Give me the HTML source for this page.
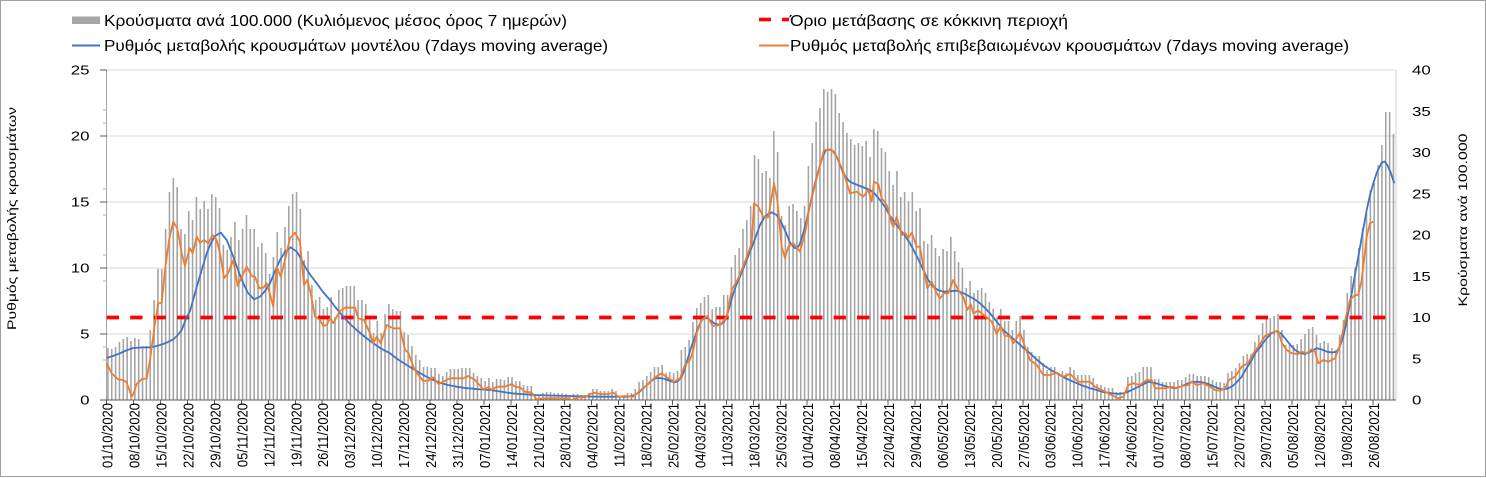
<!DOCTYPE html>
<html><head><meta charset="utf-8"><style>
html,body{margin:0;padding:0;background:#fff;}
svg{display:block;font-family:"Liberation Sans","DejaVu Sans",sans-serif;}
</style></head><body>
<svg width="1486" height="478" viewBox="0 0 1486 478" xmlns="http://www.w3.org/2000/svg">
<rect x="0" y="0" width="1486" height="478" fill="#fff"/>
<rect x="0.5" y="0.5" width="1485" height="476" fill="none" stroke="#a0a0a0" stroke-width="1"/>

<!-- gridlines -->
<g stroke="#d9d9d9" stroke-width="1" shape-rendering="crispEdges">
<line x1="107" y1="70" x2="1396" y2="70"/>
<line x1="107" y1="136" x2="1396" y2="136"/>
<line x1="107" y1="202" x2="1396" y2="202"/>
<line x1="107" y1="268" x2="1396" y2="268"/>
<line x1="107" y1="334" x2="1396" y2="334"/>
</g>

<!-- bars -->
<g transform="translate(0,400) scale(1,-1)">
<path fill="none" stroke="#a5a5a5" stroke-width="1.6" d="M107.9 0
v52m3.849-52v51m3.849-51v53m3.849-53v58m3.849-58v61m3.849-61v63m3.849-63v59m3.849-59v62m3.849-62v61m3.849-61v54m3.849-54v54m3.849-54
v70m3.849-70v100m3.849-100v131m3.849-131v131m3.849-131v171m3.849-171v208m3.849-208v222m3.849-222v213m3.849-213v171m3.849-171v166m3.849-166v189m3.849-189v180m3.849-180v203m3.849-203v191m3.849-191v199m3.849-199v191m3.849-191v206m3.849-206v203m3.849-203v192m3.849-192
v155m3.849-155v150m3.849-150v163m3.849-163v178m3.849-178v160m3.849-160v171m3.849-171v185m3.849-185v171m3.849-171v171m3.849-171v153m3.849-153v157m3.849-157v147m3.849-147v126m3.849-126v143m3.849-143v168m3.849-168v152m3.849-152v173m3.849-173v194m3.849-194
v206m3.849-206v208m3.849-208v191m3.849-191v140m3.849-140v149m3.849-149v115m3.849-115v100m3.849-100v103m3.849-103v91m3.849-91v93m3.849-93v103m3.849-103v83m3.849-83v110m3.849-110v112m3.849-112v114m3.849-114v114m3.849-114v114m3.849-114v100m3.849-100v100m3.849-100v96m3.849-96v83m3.849-83v67m3.849-67v79m3.849-79v67m3.849-67v86m3.849-86v96m3.849-96v91m3.849-91v89m3.849-89v89m3.849-89v68m3.849-68v65m3.849-65v54m3.849-54v45m3.849-45v40m3.849-40v33m3.849-33v33m3.849-33v32m3.849-32v32m3.849-32v26m3.849-26v24m3.849-24v28m3.849-28v31m3.849-31v31m3.849-31v31m3.849-31v32m3.849-32v32m3.849-32v32m3.849-32v27m3.849-27v24m3.849-24v22m3.849-22v19m3.849-19v22m3.849-22
v18m3.849-18v21m3.849-21v21m3.849-21v20m3.849-20v23m3.849-23v23m3.849-23v19m3.849-19v19m3.849-19v15m3.849-15v14m3.849-14v14m3.849-14v6m3.849-6v4m3.849-4v7m3.849-7v8m3.849-8v8m3.849-8v7m3.849-7v7m3.849-7v7m3.849-7v6m3.849-6v3m3.849-3v6m3.849-6v6m3.849-6v5m3.849-5v5m3.849-5v7m3.849-7v11m3.849-11v11m3.849-11v9m3.849-9v9m3.849-9v9m3.849-9v11m3.849-11v9m3.849-9v4m3.849-4v4m3.849-4v7m3.849-7v7m3.849-7v11m3.849-11v18m3.849-18v20m3.849-20v24m3.849-24v28m3.849-28v33m3.849-33v33m3.849-33v35m3.849-35v27m3.849-27v28m3.849-28v27m3.849-27v29m3.849-29v50m3.849-50v53m3.849-53v60m3.849-60v78m3.849-78v92m3.849-92
v97m3.849-97v103m3.849-103v105m3.849-105v91m3.849-91v93m3.849-93v93m3.849-93v105m3.849-105v105m3.849-105v133m3.849-133v145m3.849-145v152m3.849-152v171m3.849-171v180m3.849-180v194m3.849-194v245m3.849-245v241m3.849-241v227m3.849-227v229m3.849-229v222m3.849-222v269m3.849-269v248m3.849-248v184m3.849-184v175m3.849-175v194m3.849-194v196m3.849-196v189m3.849-189v182m3.849-182v194m3.849-194v234m3.849-234v257m3.849-257v278m3.849-278v292m3.849-292v311m3.849-311v308m3.849-308v311m3.849-311v306m3.849-306v287m3.849-287v278m3.849-278v267m3.849-267v261m3.849-261v255m3.849-255v257m3.849-257v254m3.849-254v259m3.849-259v243m3.849-243v271m3.849-271v269m3.849-269v252m3.849-252v248m3.849-248v229m3.849-229v215m3.849-215v229m3.849-229
v203m3.849-203v208m3.849-208v199m3.849-199v208m3.849-208v189m3.849-189v192m3.849-192v159m3.849-159v156m3.849-156v165m3.849-165v152m3.849-152v144m3.849-144v151m3.849-151v149m3.849-149v163m3.849-163v149m3.849-149v138m3.849-138v132m3.849-132v112m3.849-112v119m3.849-119v107m3.849-107v110m3.849-110v112m3.849-112v107m3.849-107v98m3.849-98v91m3.849-91v83m3.849-83v91m3.849-91v79m3.849-79v79m3.849-79v70m3.849-70v79m3.849-79v84m3.849-84v70m3.849-70v53m3.849-53v48m3.849-48v44m3.849-44v44m3.849-44v37m3.849-37v30m3.849-30v33m3.849-33v33m3.849-33v27m3.849-27v29m3.849-29v27m3.849-27v33m3.849-33v30m3.849-30v25m3.849-25v25m3.849-25v25m3.849-25v25m3.849-25
v22m3.849-22v16m3.849-16v15m3.849-15v13m3.849-13v12m3.849-12v12m3.849-12v8m3.849-8v8m3.849-8v7m3.849-7v23m3.849-23v24m3.849-24v27m3.849-27v28m3.849-28v33m3.849-33v33m3.849-33v33m3.849-33v21m3.849-21v21m3.849-21v18m3.849-18v18m3.849-18v18m3.849-18v18m3.849-18v20m3.849-20v20m3.849-20v23m3.849-23v26m3.849-26v26m3.849-26v24m3.849-24v24m3.849-24v24m3.849-24v23m3.849-23v20m3.849-20v18m3.849-18v18m3.849-18v17m3.849-17v27m3.849-27v29m3.849-29v32m3.849-32v37m3.849-37v44m3.849-44v46m3.849-46v46m3.849-46v58m3.849-58v65m3.849-65v77m3.849-77v81m3.849-81v82m3.849-82v84m3.849-84v86m3.849-86v70m3.849-70v55m3.849-55v55m3.849-55v55m3.849-55v56m3.849-56v61m3.849-61v66m3.849-66v71m3.849-71v73m3.849-73
v65m3.849-65v57m3.849-57v59m3.849-59v57m3.849-57v52m3.849-52v50m3.849-50v65m3.849-65v80m3.849-80v107m3.849-107v124m3.849-124v132m3.849-132v152m3.849-152v172m3.849-172v187m3.849-187v210m3.849-210v217m3.849-217v235m3.849-235v255m3.849-255v288m3.849-288v288m3.849-288v266"/>
</g>

<!-- axes -->
<g shape-rendering="crispEdges">
<line x1="106.5" y1="70" x2="106.5" y2="400" stroke="#a6a6a6" stroke-width="1"/>
<line x1="1396" y1="70" x2="1396" y2="400" stroke="#d0d0d0" stroke-width="1"/>
<line x1="106" y1="400" x2="1396" y2="400" stroke="#595959" stroke-width="1"/>
<g stroke="#595959" stroke-width="1">
<line x1="100" y1="70" x2="107" y2="70"/><line x1="100" y1="136" x2="107" y2="136"/><line x1="100" y1="202" x2="107" y2="202"/><line x1="100" y1="268" x2="107" y2="268"/><line x1="100" y1="334" x2="107" y2="334"/><line x1="100" y1="400" x2="107" y2="400"/>
</g>
<g stroke="#b0b0b0" stroke-width="1">
<line x1="103" y1="189" x2="107" y2="189"/><line x1="103" y1="215" x2="107" y2="215"/><line x1="103" y1="255" x2="107" y2="255"/><line x1="103" y1="281" x2="107" y2="281"/><line x1="103" y1="347" x2="107" y2="347"/><line x1="103" y1="360" x2="107" y2="360"/><line x1="103" y1="110" x2="107" y2="110"/><line x1="103" y1="123" x2="107" y2="123"/>
</g>
<g stroke="#595959" stroke-width="1">
<line x1="106.7" y1="400" x2="106.7" y2="405"/><line x1="133.6" y1="400" x2="133.6" y2="405"/><line x1="160.6" y1="400" x2="160.6" y2="405"/><line x1="187.5" y1="400" x2="187.5" y2="405"/><line x1="214.5" y1="400" x2="214.5" y2="405"/><line x1="241.4" y1="400" x2="241.4" y2="405"/><line x1="268.4" y1="400" x2="268.4" y2="405"/><line x1="295.3" y1="400" x2="295.3" y2="405"/><line x1="322.2" y1="400" x2="322.2" y2="405"/><line x1="349.2" y1="400" x2="349.2" y2="405"/><line x1="376.1" y1="400" x2="376.1" y2="405"/><line x1="403.1" y1="400" x2="403.1" y2="405"/><line x1="430" y1="400" x2="430" y2="405"/><line x1="457" y1="400" x2="457" y2="405"/><line x1="483.9" y1="400" x2="483.9" y2="405"/><line x1="510.8" y1="400" x2="510.8" y2="405"/><line x1="537.8" y1="400" x2="537.8" y2="405"/><line x1="564.7" y1="400" x2="564.7" y2="405"/><line x1="591.7" y1="400" x2="591.7" y2="405"/><line x1="618.6" y1="400" x2="618.6" y2="405"/><line x1="645.6" y1="400" x2="645.6" y2="405"/><line x1="672.5" y1="400" x2="672.5" y2="405"/><line x1="699.4" y1="400" x2="699.4" y2="405"/><line x1="726.4" y1="400" x2="726.4" y2="405"/><line x1="753.3" y1="400" x2="753.3" y2="405"/><line x1="780.3" y1="400" x2="780.3" y2="405"/><line x1="807.2" y1="400" x2="807.2" y2="405"/><line x1="834.2" y1="400" x2="834.2" y2="405"/><line x1="861.1" y1="400" x2="861.1" y2="405"/><line x1="888" y1="400" x2="888" y2="405"/><line x1="915" y1="400" x2="915" y2="405"/><line x1="941.9" y1="400" x2="941.9" y2="405"/><line x1="968.9" y1="400" x2="968.9" y2="405"/><line x1="995.8" y1="400" x2="995.8" y2="405"/><line x1="1022.8" y1="400" x2="1022.8" y2="405"/><line x1="1049.7" y1="400" x2="1049.7" y2="405"/><line x1="1076.6" y1="400" x2="1076.6" y2="405"/><line x1="1103.6" y1="400" x2="1103.6" y2="405"/><line x1="1130.5" y1="400" x2="1130.5" y2="405"/><line x1="1157.5" y1="400" x2="1157.5" y2="405"/><line x1="1184.4" y1="400" x2="1184.4" y2="405"/><line x1="1211.4" y1="400" x2="1211.4" y2="405"/><line x1="1238.3" y1="400" x2="1238.3" y2="405"/><line x1="1265.2" y1="400" x2="1265.2" y2="405"/><line x1="1292.2" y1="400" x2="1292.2" y2="405"/><line x1="1319.1" y1="400" x2="1319.1" y2="405"/><line x1="1346.1" y1="400" x2="1346.1" y2="405"/><line x1="1373" y1="400" x2="1373" y2="405"/>
</g>
</g>

<!-- red threshold -->
<line x1="106.7" y1="317.5" x2="1392.6" y2="317.5" stroke="#ff0000" stroke-width="3.7" stroke-dasharray="12.3 11.15"/>

<!-- blue model line -->
<polyline fill="none" stroke="#4472c4" stroke-width="1.8" stroke-linejoin="round" points="106.7,358 113,356 120,353.3 126,350.5 133.3,348 142,347.5 150,347.3 155,346.5 160,345 166,343 173.3,339.3 177,336 181.7,330 186.7,317 190,311 196.7,287 201.7,270 206.7,253.3 211,243 215,236 220.7,232.7 226.7,240 233.3,256.7 238,270 243.3,283.3 248,293 254,299.3 260,296.7 265,291 270,283.3 275,271 280,260 285,252 290.7,247.3 296.7,251.7 300,257 305,266.7 310,274.5 316.7,283.3 323,292 330,300 336,308 343.3,316.7 350,324 356.7,330 365,337 373.3,343.3 381,348.5 390,353.3 398,359.5 406.7,365 415,370 423.3,375 431,379 440,382.7 448,385 456.7,386.7 465,388 473.3,388.7 481,389.5 490,390 500,391.5 511.7,393.3 523,394.2 535,395 550,395.5 568.3,396 595,396.7 625,396.7 630,396.3 635,395 640,391.5 645,386.7 650,382 655,378.3 660,378 665,379 670,381 675,382.3 678,381 681.7,376.7 685,368 688.3,356.7 691.7,346 695,336.7 698,328 701.7,320 705,318 707.7,318.3 711,321 715,323.7 720,325 724,322 726.7,316.7 730,305 733.3,293.3 736.7,284 740,276.7 746.7,260 753.3,243.3 760,225 764,218 766.7,215 771.7,212.3 776.7,215 780,220 783.3,226.7 787,235 790,242.7 795,248.3 798,247 800,243.3 803,234 806.7,220 810,205 813.3,190 816.7,177 820,165 823,156 826,150 830,149.5 833,151 836.7,156.7 840,165 843.3,173.3 846.7,178.5 850,181.7 855,184 860,186 865,188 870,190 875,194 880,200 885,207 890,216 895,223 900,229.5 905,236 910,243.3 916.7,256 923.3,270 928,279.5 933.3,286.7 938,290 943.3,291.7 950,291.2 956.7,290.7 963,293 970,296.7 975,299.5 980,303.3 985,308 990,313.3 996.7,321.5 1003.3,330 1010,336 1016.7,341.7 1023,347.5 1030,353.3 1036.7,359.5 1043.3,365 1050,369.5 1056.7,373.3 1065,378 1073.3,381.7 1081,385 1090,388.3 1095,389.5 1101.7,391.7 1110,393 1118.3,394 1125,393 1131.7,390 1140,386 1148.3,381.7 1155,383 1161.7,385 1168,387 1175,388.3 1181,386.5 1188.3,383.3 1193,382 1198.3,381.7 1203,382.5 1208.3,384 1215,387 1221.7,389.3 1226,389 1231.7,386.7 1236,383 1241.7,376.7 1246,369 1251.7,360 1256,352 1261.7,345 1266,339 1271.7,333.3 1276.7,331 1281,333.5 1285,338.3 1290,344.5 1295,350 1300,353 1305,354 1310,352 1316.7,348.3 1322,349.5 1326.7,351.7 1332,352.5 1336.7,351.7 1340,346 1343.3,336.7 1346.5,322 1350,303.3 1354,280 1358.3,256.7 1362.5,233 1366.7,210 1370,195 1373.3,183.3 1377,172 1381.7,162.7 1384.5,161.5 1387.3,165 1390.5,172 1394.3,183.3"/>

<!-- orange confirmed line -->
<polyline fill="none" stroke="#ed7d31" stroke-width="1.8" stroke-linejoin="round" points="106.7,363.3 111.7,373.3 118.3,379.5 123.3,380 126.7,382.5 129,389 131.7,396.7 133.3,394 136.7,384 141.7,379.3 146.7,378.3 150,360 155,323.3 158.3,303.3 161.7,302.7 165,270 169.3,238.3 173.3,221.7 177.3,228.3 181.7,253.3 185,266 187.3,256.7 190,248.3 192.7,253.3 196.7,236.7 200,242.7 204.3,240 208.3,243.3 212.3,235 216.7,240 220.7,256.7 224,278.3 228.3,272.7 233.3,260 237.7,286 241.7,276.7 246.7,266.7 251.7,276 255,276.7 259.3,288.3 263.3,287.7 266.7,283.3 270.7,296.7 273.3,306.7 276.7,266.7 280.7,276.7 285,260 290,238.3 295,232.7 300,242 304,285 307.3,280 310.7,293.3 315,316.7 320,320 323.3,326 326.7,325 330,318.3 333.3,323.3 339.3,311.7 345,307.7 355,307.7 358.3,318.3 364,320 370,333.3 373.3,343.3 376.7,336.7 380.7,343.3 386.7,325 393.3,328.3 400,328.3 405,350 408.3,352.7 414,368.3 418.3,375 423.3,381 428.3,380.7 433.3,377.3 438.3,384 443.3,381.7 450,378.3 463.3,378.3 468.3,376 475,380 483.3,389.3 488.3,387.3 491.7,390 496.7,386.7 505,386.7 511.7,384 515,386.7 520,387.3 525,391.7 531.7,392.7 536.7,399.3 543.3,398.3 568.3,398.3 571.7,400 578.3,397.3 585,397.3 590,394 595,392.7 600,394 608.3,394 613.3,392.7 618.3,396.7 625,396 633.3,396.7 641.7,389.3 648.3,384 655,377.3 661.7,373.3 666.7,377.3 674.3,381.7 680,378.3 685,365 690,360 693.3,350 696.7,333.3 701.7,320 707.5,316 712.5,326 720,325 726.7,316.7 731.7,290 738.3,278.3 745,261.7 751.7,243.3 754,203.3 758.3,206.7 763.3,216.7 768.3,217.3 774,183.3 777.3,200 781.7,246.7 785,258.3 788.3,246.7 793.3,243.3 800,251.7 805,233.3 810,205 816.7,178.3 824,150 831.7,150 836.7,156.7 843.3,171.7 850,193.3 856.7,191.7 863.3,196.7 868.3,190 871.7,201.7 874,181.7 878.3,184 881.7,198.3 886.7,205 891.7,223.3 893.3,226.7 896.7,216.7 901.7,235 905,232.7 908.3,238.3 911.7,232.7 916.7,246.7 920,246.7 923.3,266.7 927.3,288.3 931.7,281.7 936.7,293.3 940,298.3 944,293.3 948.3,293.3 953.3,280 958.3,290 963.3,296.7 967.3,310 970.7,304 973.3,313.3 978.3,310.7 986.7,317.3 991.7,321.7 996.7,334 1000.7,326 1005,336 1010,336 1013.3,343.3 1020,332.7 1026.7,351.7 1030,360 1036.7,365 1043.3,375 1050,375 1056.7,372.7 1063.3,376.7 1070,374 1078.3,381.7 1090,381.7 1095,386.7 1105,391.7 1110,394.3 1115,396.7 1118.3,398.3 1123.3,396.7 1128.3,385 1133.3,383.3 1140,385 1146.7,380 1151.7,380 1155,388.3 1165,388.3 1171.7,386.7 1176.7,388.3 1181.7,386 1188.3,385 1191.7,381.7 1196.7,385 1203.3,383.3 1210,386.7 1215,390 1220,390.7 1225,388.3 1229,380 1235,376.7 1241.7,366.7 1248.3,362.7 1253.3,353.3 1258.3,346.7 1265,336 1270,333.3 1275,331.7 1278.3,331 1281.7,342.7 1286.7,350 1291.7,353.3 1298.3,354 1301.7,351.7 1306.7,353.3 1311.7,349.3 1315,351.7 1318.3,363.3 1323.3,360 1328.3,361.7 1335,358.3 1340,345 1346.7,313.3 1350,300 1355,295 1358.3,295 1361.7,280 1366.7,236.7 1370,223.3 1373.3,221.7"/>

<!-- left y labels -->
<g font-size="13" fill="#000" text-anchor="end">
<text transform="translate(89.5,74.6) scale(1.3,1)">25</text>
<text transform="translate(89.5,140.6) scale(1.3,1)">20</text>
<text transform="translate(89.5,206.6) scale(1.3,1)">15</text>
<text transform="translate(89.5,272.6) scale(1.3,1)">10</text>
<text transform="translate(89.5,338.6) scale(1.3,1)">5</text>
<text transform="translate(89.5,404.6) scale(1.3,1)">0</text>
</g>
<!-- right y labels -->
<g font-size="13" fill="#000" text-anchor="start">
<text transform="translate(1412,74.6) scale(1.3,1)">40</text>
<text transform="translate(1412,115.9) scale(1.3,1)">35</text>
<text transform="translate(1412,157.1) scale(1.3,1)">30</text>
<text transform="translate(1412,198.4) scale(1.3,1)">25</text>
<text transform="translate(1412,239.6) scale(1.3,1)">20</text>
<text transform="translate(1412,280.9) scale(1.3,1)">15</text>
<text transform="translate(1412,322.1) scale(1.3,1)">10</text>
<text transform="translate(1412,363.4) scale(1.3,1)">5</text>
<text transform="translate(1412,404.6) scale(1.3,1)">0</text>
</g>

<!-- x labels -->
<g font-size="13" fill="#000" text-anchor="end">
<text transform="translate(112.7,403) scale(1.1,1) rotate(-90)">01/10/2020</text>
<text transform="translate(139.6,403) scale(1.1,1) rotate(-90)">08/10/2020</text>
<text transform="translate(166.6,403) scale(1.1,1) rotate(-90)">15/10/2020</text>
<text transform="translate(193.5,403) scale(1.1,1) rotate(-90)">22/10/2020</text>
<text transform="translate(220.5,403) scale(1.1,1) rotate(-90)">29/10/2020</text>
<text transform="translate(247.4,403) scale(1.1,1) rotate(-90)">05/11/2020</text>
<text transform="translate(274.4,403) scale(1.1,1) rotate(-90)">12/11/2020</text>
<text transform="translate(301.3,403) scale(1.1,1) rotate(-90)">19/11/2020</text>
<text transform="translate(328.2,403) scale(1.1,1) rotate(-90)">26/11/2020</text>
<text transform="translate(355.2,403) scale(1.1,1) rotate(-90)">03/12/2020</text>
<text transform="translate(382.1,403) scale(1.1,1) rotate(-90)">10/12/2020</text>
<text transform="translate(409.1,403) scale(1.1,1) rotate(-90)">17/12/2020</text>
<text transform="translate(436,403) scale(1.1,1) rotate(-90)">24/12/2020</text>
<text transform="translate(463,403) scale(1.1,1) rotate(-90)">31/12/2020</text>
<text transform="translate(489.9,403) scale(1.1,1) rotate(-90)">07/01/2021</text>
<text transform="translate(516.8,403) scale(1.1,1) rotate(-90)">14/01/2021</text>
<text transform="translate(543.8,403) scale(1.1,1) rotate(-90)">21/01/2021</text>
<text transform="translate(570.7,403) scale(1.1,1) rotate(-90)">28/01/2021</text>
<text transform="translate(597.7,403) scale(1.1,1) rotate(-90)">04/02/2021</text>
<text transform="translate(624.6,403) scale(1.1,1) rotate(-90)">11/02/2021</text>
<text transform="translate(651.6,403) scale(1.1,1) rotate(-90)">18/02/2021</text>
<text transform="translate(678.5,403) scale(1.1,1) rotate(-90)">25/02/2021</text>
<text transform="translate(705.4,403) scale(1.1,1) rotate(-90)">04/03/2021</text>
<text transform="translate(732.4,403) scale(1.1,1) rotate(-90)">11/03/2021</text>
<text transform="translate(759.3,403) scale(1.1,1) rotate(-90)">18/03/2021</text>
<text transform="translate(786.3,403) scale(1.1,1) rotate(-90)">25/03/2021</text>
<text transform="translate(813.2,403) scale(1.1,1) rotate(-90)">01/04/2021</text>
<text transform="translate(840.2,403) scale(1.1,1) rotate(-90)">08/04/2021</text>
<text transform="translate(867.1,403) scale(1.1,1) rotate(-90)">15/04/2021</text>
<text transform="translate(894,403) scale(1.1,1) rotate(-90)">22/04/2021</text>
<text transform="translate(921,403) scale(1.1,1) rotate(-90)">29/04/2021</text>
<text transform="translate(947.9,403) scale(1.1,1) rotate(-90)">06/05/2021</text>
<text transform="translate(974.9,403) scale(1.1,1) rotate(-90)">13/05/2021</text>
<text transform="translate(1001.8,403) scale(1.1,1) rotate(-90)">20/05/2021</text>
<text transform="translate(1028.8,403) scale(1.1,1) rotate(-90)">27/05/2021</text>
<text transform="translate(1055.7,403) scale(1.1,1) rotate(-90)">03/06/2021</text>
<text transform="translate(1082.6,403) scale(1.1,1) rotate(-90)">10/06/2021</text>
<text transform="translate(1109.6,403) scale(1.1,1) rotate(-90)">17/06/2021</text>
<text transform="translate(1136.5,403) scale(1.1,1) rotate(-90)">24/06/2021</text>
<text transform="translate(1163.5,403) scale(1.1,1) rotate(-90)">01/07/2021</text>
<text transform="translate(1190.4,403) scale(1.1,1) rotate(-90)">08/07/2021</text>
<text transform="translate(1217.4,403) scale(1.1,1) rotate(-90)">15/07/2021</text>
<text transform="translate(1244.3,403) scale(1.1,1) rotate(-90)">22/07/2021</text>
<text transform="translate(1271.2,403) scale(1.1,1) rotate(-90)">29/07/2021</text>
<text transform="translate(1298.2,403) scale(1.1,1) rotate(-90)">05/08/2021</text>
<text transform="translate(1325.1,403) scale(1.1,1) rotate(-90)">12/08/2021</text>
<text transform="translate(1352.1,403) scale(1.1,1) rotate(-90)">19/08/2021</text>
<text transform="translate(1379,403) scale(1.1,1) rotate(-90)">26/08/2021</text>
</g>

<!-- axis titles -->
<text transform="translate(16,218.5) rotate(-90)" font-size="12" text-anchor="middle" textLength="223" lengthAdjust="spacingAndGlyphs" fill="#000">Ρυθμός μεταβολής κρουσμάτων</text>
<text transform="translate(1467,220) rotate(-90)" font-size="12" text-anchor="middle" textLength="173" lengthAdjust="spacingAndGlyphs" fill="#000">Κρούσματα ανά 100.000</text>

<!-- legend -->
<rect x="72" y="16.5" width="28" height="7.5" fill="#a6a6a6"/>
<text x="104" y="26" font-size="16" textLength="463" lengthAdjust="spacingAndGlyphs" fill="#000">Κρούσματα ανά 100.000 (Κυλιόμενος μέσος όρος 7 ημερών)</text>
<line x1="72" y1="45.5" x2="100" y2="45.5" stroke="#4472c4" stroke-width="2"/>
<text x="104" y="51" font-size="16" textLength="504" lengthAdjust="spacingAndGlyphs" fill="#000">Ρυθμός μεταβολής κρουσμάτων μοντέλου (7days moving average)</text>
<line x1="759" y1="19.5" x2="771" y2="19.5" stroke="#ff0000" stroke-width="3.6"/>
<line x1="782" y1="19.5" x2="789" y2="19.5" stroke="#ff0000" stroke-width="3.6"/>
<text x="790" y="26" font-size="16" textLength="278" lengthAdjust="spacingAndGlyphs" fill="#000">Όριο μετάβασης σε κόκκινη περιοχή</text>
<line x1="759" y1="45.5" x2="789" y2="45.5" stroke="#ed7d31" stroke-width="2"/>
<text x="790" y="51" font-size="16" textLength="559" lengthAdjust="spacingAndGlyphs" fill="#000">Ρυθμός μεταβολής επιβεβαιωμένων κρουσμάτων (7days moving average)</text>
</svg>
</body></html>
